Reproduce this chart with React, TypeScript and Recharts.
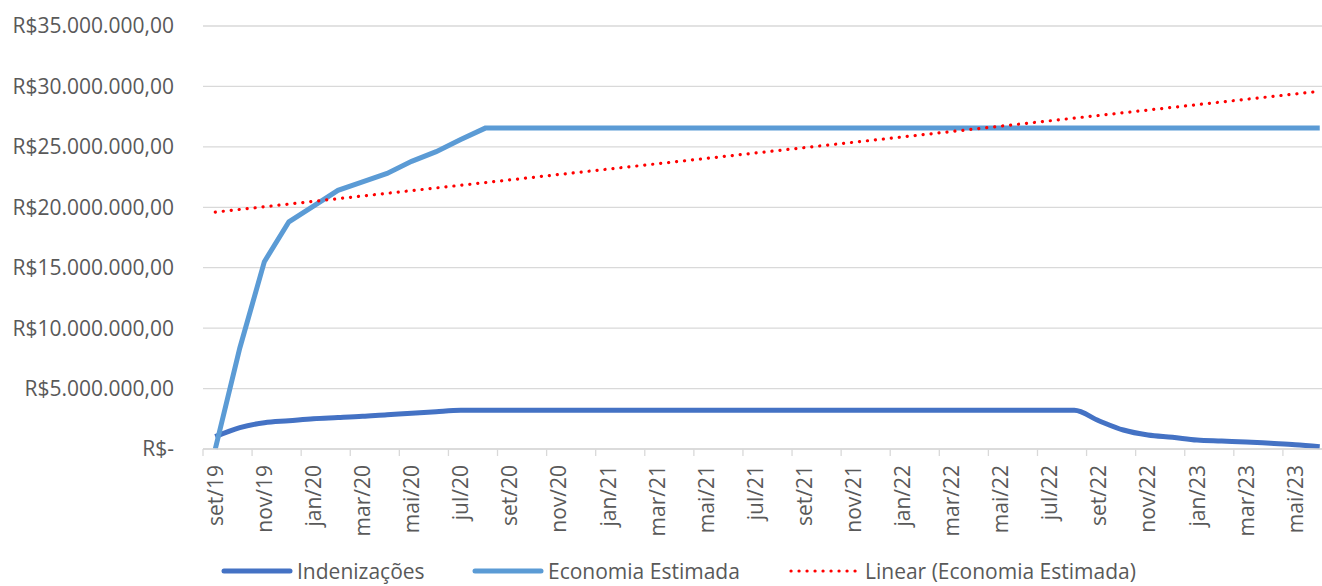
import { LineChart, Line, XAxis, YAxis, CartesianGrid, Legend } from "recharts";

const months = [
  "set/19", "out/19", "nov/19", "dez/19",
  "jan/20", "fev/20", "mar/20", "abr/20", "mai/20", "jun/20", "jul/20", "ago/20", "set/20", "out/20", "nov/20", "dez/20",
  "jan/21", "fev/21", "mar/21", "abr/21", "mai/21", "jun/21", "jul/21", "ago/21", "set/21", "out/21", "nov/21", "dez/21",
  "jan/22", "fev/22", "mar/22", "abr/22", "mai/22", "jun/22", "jul/22", "ago/22", "set/22", "out/22", "nov/22", "dez/22",
  "jan/23", "fev/23", "mar/23", "abr/23", "mai/23", "jun/23"
];

const indenizacoes = [
  1020000, 1770000, 2180000, 2340000,
  2510000, 2600000, 2700000, 2840000, 2950000, 3090000, 3200000, 3200000, 3200000, 3200000, 3200000, 3200000,
  3200000, 3200000, 3200000, 3200000, 3200000, 3200000, 3200000, 3200000, 3200000, 3200000, 3200000, 3200000,
  3200000, 3200000, 3200000, 3200000, 3200000, 3200000, 3200000, 3200000, 2340000, 1570000, 1160000, 970000,
  740000, 660000, 580000, 470000, 360000, 190000
];

const economia = [
  0, 8360000, 15500000, 18800000,
  20100000, 21400000, 22100000, 22800000, 23800000, 24600000, 25600000, 26550000, 26550000, 26550000, 26550000, 26550000,
  26550000, 26550000, 26550000, 26550000, 26550000, 26550000, 26550000, 26550000, 26550000, 26550000, 26550000, 26550000,
  26550000, 26550000, 26550000, 26550000, 26550000, 26550000, 26550000, 26550000, 26550000, 26550000, 26550000, 26550000,
  26550000, 26550000, 26550000, 26550000, 26550000, 26550000
];

// trend line end points
const trendStart = 19600000;
const trendEnd = 29600000;

const yTicks = [0, 5000000, 10000000, 15000000, 20000000, 25000000, 30000000, 35000000];

const data = months.map((m, i) => ({
  i,
  month: m,
  indenizacoes: indenizacoes[i],
  economia: economia[i],
  linear: i === 0 ? trendStart : i === months.length - 1 ? trendEnd : null
}));

// tick marks sit between categories, every second month
const xTicks = months.filter((_, i) => i % 2 === 0).map((_, k) => k * 2 - 0.5).concat([months.length - 0.5]);

const FONT = "'Open Sans', sans-serif";
const GREY = "#595959";

function fmtMoney(v: number) {
  if (v === 0) return "R$-";
  const s = String(Math.round(v)).replace(/\B(?=(\d{3})+(?!\d))/g, ".");
  return "R$" + s + ",00";
}

function MonthTick(props: any) {
  const { x, y, payload, width } = props;
  const idx = payload.value + 0.5;
  const label = months[idx];
  if (!label) return null;
  const half = width / months.length / 2;
  const cx = x + half;
  return (
    <text
      x={cx}
      y={y}
      dy="0.36em"
      transform={`rotate(-90, ${cx}, ${y})`}
      textAnchor="end"
      fill={GREY}
      fontSize={21}
      fontFamily={FONT}
    >
      {label}
    </text>
  );
}

function LegendContent() {
  const item = (sample: any, text: string, w: number | undefined) => (
    <div style={{ display: "flex", alignItems: "center", width: w, flexShrink: 0 }}>
      <svg width={72} height={22}>{sample}</svg>
      <span style={{ marginLeft: 4, fontSize: 21, color: GREY, fontFamily: FONT, lineHeight: "22px", whiteSpace: "nowrap" }}>{text}</span>
    </div>
  );
  return (
    <div style={{ display: "flex", height: 22, paddingLeft: 221 }}>
      {item(<line x1={3} y1={11} x2={69} y2={11} stroke="#4472C4" strokeWidth={5} strokeLinecap="round" />, "Indenizações", 251)}
      {item(<line x1={3} y1={11} x2={69} y2={11} stroke="#5B9BD5" strokeWidth={5} strokeLinecap="round" />, "Economia Estimada", 317)}
      {item(
        <line x1={2} y1={11} x2={70} y2={11} stroke="#FF0000" strokeWidth={3.2} strokeLinecap="round" strokeDasharray="0.1 7.9" />,
        "Linear (Economia Estimada)",
        undefined
      )}
    </div>
  );
}

export default function App() {
  return (
    <div style={{ position: "absolute", left: 0, top: 0, width: 1322, height: 586, overflow: "hidden", background: "#fff" }}>
      <LineChart width={1340} height={586} data={data} margin={{ top: 26, right: 8, bottom: 4, left: 0 }}>
        <CartesianGrid vertical={false} stroke="#d9d9d9" strokeWidth={1.3} />
        <XAxis
          dataKey="i"
          type="number"
          domain={[-0.5, months.length - 0.5]}
          ticks={xTicks}
          interval={0}
          height={111}
          tickSize={7}
          tickMargin={9}
          axisLine={{ stroke: "#d9d9d9", strokeWidth: 1.3 }}
          tickLine={{ stroke: "#d9d9d9", strokeWidth: 1.3 }}
          tick={<MonthTick />}
        />
        <YAxis
          width={203}
          domain={[0, 35000000]}
          ticks={yTicks}
          interval={0}
          axisLine={false}
          tickLine={false}
          tickSize={0}
          tickMargin={29}
          tickFormatter={fmtMoney}
          tick={{ fill: GREY, fontSize: 21, fontFamily: FONT }}
        />
        <Line
          dataKey="indenizacoes"
          stroke="#4472C4"
          strokeWidth={5}
          dot={false}
          type="monotone"
          isAnimationActive={false}
        />
        <Line
          dataKey="economia"
          stroke="#5B9BD5"
          strokeWidth={5}
          dot={false}
          type="linear"
          isAnimationActive={false}
        />
        <Line
          dataKey="linear"
          stroke="#FF0000"
          strokeWidth={3.2}
          strokeLinecap="round"
          strokeDasharray="0.1 7.9"
          dot={false}
          connectNulls
          isAnimationActive={false}
        />
        <Legend verticalAlign="bottom" height={22} content={<LegendContent />} wrapperStyle={{ left: 0, bottom: 4, width: 1340 }} />
      </LineChart>
    </div>
  );
}
